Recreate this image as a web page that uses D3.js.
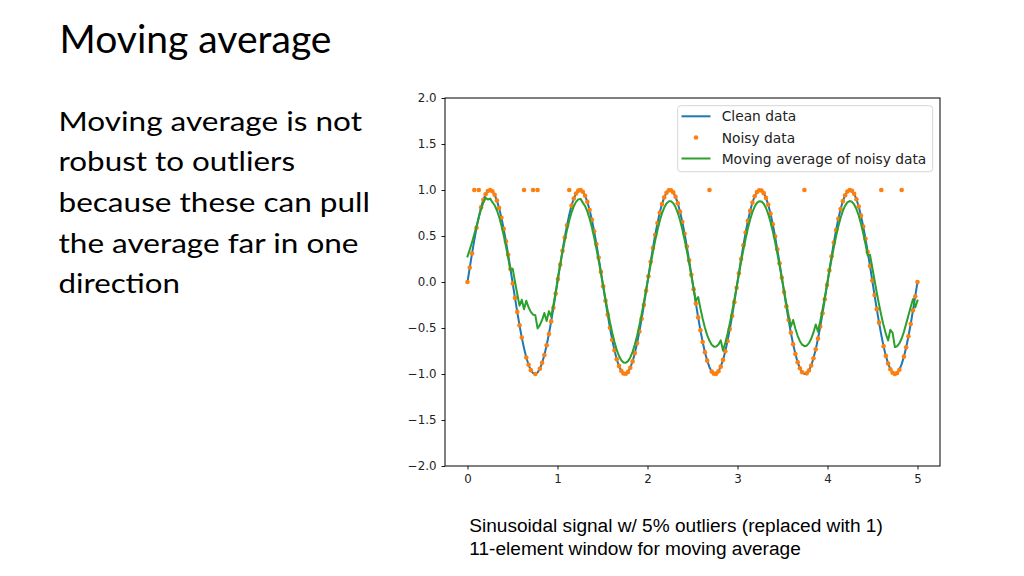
<!DOCTYPE html>
<html>
<head>
<meta charset="utf-8">
<script src="https://cdn.jsdelivr.net/npm/d3@7"></script>
<style>
  html, body { margin: 0; padding: 0; background: #fff; }
  svg { display: block; }
</style>
</head>
<body>
<svg id="chart" width="1024" height="576"></svg>
<script>
// ---------------- DATA ----------------
const titleText = "Moving average";
const bodyLines = ["Moving average is not", "robust to outliers", "because these can pull", "the average far in one", "direction"];
const captionLines = ["Sinusoidal signal w/ 5% outliers (replaced with 1)", "11-element window for moving average"];
const seriesNames = ["Clean data", "Noisy data", "Moving average of noisy data"];

const xTicks = [0, 1, 2, 3, 4, 5];
const yTicks = [-2.0, -1.5, -1.0, -0.5, 0.0, 0.5, 1.0, 1.5, 2.0];

const cleanValues = [
  0.000, 0.157, 0.310, 0.456, 0.590, 0.710, 0.811, 0.893, 0.953, 0.989,
  1.000, 0.986, 0.948, 0.886, 0.803, 0.699, 0.577, 0.442, 0.295, 0.142,
  -0.016, -0.173, -0.325, -0.470, -0.603, -0.721, -0.821, -0.900, -0.958, -0.991,
  -1.000, -0.984, -0.943, -0.879, -0.793, -0.687, -0.565, -0.428, -0.280, -0.126,
  0.032, 0.188, 0.340, 0.484, 0.615, 0.732, 0.830, 0.907, 0.962, 0.993,
  0.999, 0.981, 0.938, 0.871, 0.783, 0.676, 0.552, 0.413, 0.265, 0.110,
  -0.047, -0.204, -0.355, -0.498, -0.628, -0.743, -0.839, -0.914, -0.966, -0.995,
  -0.998, -0.977, -0.932, -0.863, -0.773, -0.664, -0.538, -0.399, -0.250, -0.095,
  0.063, 0.219, 0.370, 0.511, 0.640, 0.753, 0.847, 0.920, 0.970, 0.996,
  0.997, 0.974, 0.926, 0.855, 0.763, 0.652, 0.525, 0.385, 0.235, 0.079,
  -0.079, -0.235, -0.385, -0.525, -0.652, -0.763, -0.855, -0.926, -0.974, -0.997,
  -0.996, -0.970, -0.920, -0.847, -0.753, -0.640, -0.511, -0.370, -0.219, -0.063,
  0.095, 0.250, 0.399, 0.538, 0.664, 0.773, 0.863, 0.932, 0.977, 0.998,
  0.995, 0.966, 0.914, 0.839, 0.743, 0.628, 0.498, 0.355, 0.204, 0.047,
  -0.110, -0.265, -0.413, -0.552, -0.676, -0.783, -0.871, -0.938, -0.981, -0.999,
  -0.993, -0.962, -0.907, -0.830, -0.732, -0.615, -0.484, -0.340, -0.188, -0.032,
  0.126, 0.280, 0.428, 0.565, 0.687, 0.793, 0.879, 0.943, 0.984, 1.000,
  0.991, 0.958, 0.900, 0.821, 0.721, 0.603, 0.470, 0.325, 0.173, 0.016,
  -0.142, -0.295, -0.442, -0.577, -0.699, -0.803, -0.886, -0.948, -0.986, -1.000,
  -0.989, -0.953, -0.893, -0.811, -0.710, -0.590, -0.456, -0.310, -0.157, 0.000
];

// noisy signal: same samples with the outliers (set to 1) seen in the picture
const noisyValues = [
  0.000, 0.157, 0.310, 1.000, 0.590, 1.000, 0.811, 0.893, 0.953, 0.989,
  1.000, 0.986, 0.948, 0.886, 0.803, 0.699, 0.577, 0.442, 0.295, 0.142,
  -0.016, -0.173, -0.325, -0.470, -0.603, 1.000, -0.821, -0.900, -0.958, 1.000,
  -1.000, 1.000, -0.943, -0.879, -0.793, -0.687, -0.565, -0.428, -0.280, -0.126,
  0.032, 0.188, 0.340, 0.484, 0.615, 1.000, 0.830, 0.907, 0.962, 0.993,
  0.999, 0.981, 0.938, 0.871, 0.783, 0.676, 0.552, 0.413, 0.265, 0.110,
  -0.047, -0.204, -0.355, -0.498, -0.628, -0.743, -0.839, -0.914, -0.966, -0.995,
  -0.998, -0.977, -0.932, -0.863, -0.773, -0.664, -0.538, -0.399, -0.250, -0.095,
  0.063, 0.219, 0.370, 0.511, 0.640, 0.753, 0.847, 0.920, 0.970, 0.996,
  0.997, 0.974, 0.926, 0.855, 0.763, 0.652, 0.525, 0.385, 0.235, 0.079,
  -0.079, -0.235, -0.385, -0.525, -0.652, -0.763, -0.855, 1.000, -0.974, -0.997,
  -0.996, -0.970, -0.920, -0.847, -0.753, -0.640, -0.511, -0.370, -0.219, -0.063,
  0.095, 0.250, 0.399, 0.538, 0.664, 0.773, 0.863, 0.932, 0.977, 0.998,
  0.995, 0.966, 0.914, 0.839, 0.743, 0.628, 0.498, 0.355, 0.204, 0.047,
  -0.110, -0.265, -0.413, -0.552, -0.676, -0.783, -0.871, -0.938, -0.981, 1.000,
  -0.993, -0.962, -0.907, -0.830, -0.732, -0.615, -0.484, -0.340, -0.188, -0.032,
  0.126, 0.280, 0.428, 0.565, 0.687, 0.793, 0.879, 0.943, 0.984, 1.000,
  0.991, 0.958, 0.900, 0.821, 0.721, 0.603, 0.470, 0.325, 0.173, 0.016,
  -0.142, -0.295, -0.442, 1.000, -0.699, -0.803, -0.886, -0.948, -0.986, -1.000,
  -0.989, -0.953, 1.000, -0.811, -0.710, -0.590, -0.456, -0.310, -0.157, 0.000
];

const windowSize = 11;
const xStart = 0, xEnd = 5;

// ---------------- DERIVED ----------------
const N = cleanValues.length;
const xValues = d3.range(N).map(i => xStart + (xEnd - xStart) * i / (N - 1));
// moving average (window of 11, zero-padded at edges, like numpy convolve 'same')
const half = Math.floor(windowSize / 2);
const maValues = noisyValues.map((_, i) => {
  let s = 0;
  for (let k = i - half; k <= i + half; k++) if (k >= 0 && k < N) s += noisyValues[k];
  return s / windowSize;
});

// ---------------- DRAW ----------------
const svg = d3.select("#chart");
svg.append("rect").attr("width", 1024).attr("height", 576).attr("fill", "#fff");

const C = { blue: "#1f77b4", orange: "#ff7f0e", green: "#2ca02c" };
const plot = { left: 445, right: 940, top: 98, bottom: 466 };

const x = d3.scaleLinear().domain([-0.25, 5.25]).range([plot.left, plot.right]);
const y = d3.scaleLinear().domain([-2, 2]).range([plot.bottom, plot.top]);

// slide text
const bodyFont = "Lato, 'Open Sans', sans-serif";
svg.append("text").attr("x", 59.5).attr("y", 52.5)
  .attr("font-family", bodyFont).attr("font-size", 38).attr("fill", "#000")
  .attr("textLength", 272).attr("lengthAdjust", "spacingAndGlyphs")
  .text(titleText);

const bodyWidths = [303.5, 236.5, 311.5, 300, 121.5];
const bodyBase = [130.5, 171.2, 211.8, 252.5, 293.2];
bodyLines.forEach((t, i) => {
  svg.append("text").attr("x", 58.5).attr("y", bodyBase[i])
    .attr("font-family", bodyFont).attr("font-size", 26.5).attr("fill", "#000")
    .attr("textLength", bodyWidths[i]).attr("lengthAdjust", "spacingAndGlyphs")
    .text(t);
});

const capWidths = [413.5, 331.5];
const capBase = [531.5, 555];
captionLines.forEach((t, i) => {
  svg.append("text").attr("x", 469.3).attr("y", capBase[i])
    .attr("font-family", "'Liberation Sans', Arial, sans-serif").attr("font-size", 18).attr("fill", "#000")
    .attr("textLength", capWidths[i]).attr("lengthAdjust", "spacingAndGlyphs")
    .text(t);
});

// clip
svg.append("clipPath").attr("id", "clip").append("rect")
  .attr("x", plot.left).attr("y", plot.top)
  .attr("width", plot.right - plot.left).attr("height", plot.bottom - plot.top);

const g = svg.append("g").attr("clip-path", "url(#clip)");

const line = d3.line().x(d => x(d[0])).y(d => y(d[1]));

g.append("path").datum(xValues.map((xv, i) => [xv, cleanValues[i]]))
  .attr("d", line).attr("fill", "none").attr("stroke", C.blue)
  .attr("stroke-width", 2).attr("stroke-linejoin", "round").attr("stroke-linecap", "square");

g.selectAll("circle.noisy").data(xValues.map((xv, i) => [xv, noisyValues[i]]))
  .enter().append("circle").attr("class", "noisy")
  .attr("cx", d => x(d[0])).attr("cy", d => y(d[1])).attr("r", 2.3)
  .attr("fill", C.orange);

g.append("path").datum(xValues.map((xv, i) => [xv, maValues[i]]))
  .attr("d", line).attr("fill", "none").attr("stroke", C.green)
  .attr("stroke-width", 2).attr("stroke-linejoin", "round").attr("stroke-linecap", "square");

// axes
const tickFont = "'DejaVu Sans', sans-serif";
const fmtY = d => (d < 0 ? "\u2212" : "") + Math.abs(d).toFixed(1);

const xAxis = svg.append("g").attr("transform", `translate(0,${plot.bottom})`)
  .call(d3.axisBottom(x).tickValues(xTicks).tickFormat(d3.format("d")).tickSize(3.5).tickPadding(5));
const yAxis = svg.append("g").attr("transform", `translate(${plot.left},0)`)
  .call(d3.axisLeft(y).tickValues(yTicks).tickFormat(fmtY).tickSize(3.5).tickPadding(5));

[xAxis, yAxis].forEach(a => {
  a.select(".domain").remove();
  a.selectAll(".tick line").attr("stroke", "#000").attr("stroke-width", 0.9);
  a.selectAll(".tick text").attr("font-family", tickFont).attr("font-size", 11.8).attr("fill", "#222");
});

// spines
svg.append("rect").attr("x", plot.left).attr("y", plot.top)
  .attr("width", plot.right - plot.left).attr("height", plot.bottom - plot.top)
  .attr("fill", "none").attr("stroke", "#000").attr("stroke-width", 1);

// legend
const lg = svg.append("g");
lg.append("rect").attr("x", 677.7).attr("y", 105.7).attr("width", 255).attr("height", 66)
  .attr("rx", 3).attr("ry", 3)
  .attr("fill", "#fff").attr("fill-opacity", 0.8).attr("stroke", "#d6d6d6").attr("stroke-width", 1);
const rowsY = [116.3, 137.5, 158.5];
seriesNames.forEach((name, i) => {
  const ry = rowsY[i];
  if (i === 1) {
    lg.append("circle").attr("cx", 696).attr("cy", ry).attr("r", 2.3).attr("fill", C.orange);
  } else {
    lg.append("line").attr("x1", 681.5).attr("x2", 710.5).attr("y1", ry).attr("y2", ry)
      .attr("stroke", i === 0 ? C.blue : C.green).attr("stroke-width", 2);
  }
  lg.append("text").attr("x", 721.7).attr("y", ry + 5)
    .attr("font-family", tickFont).attr("font-size", 13.8).attr("fill", "#222")
    .text(name);
});
</script>
</body>
</html>
